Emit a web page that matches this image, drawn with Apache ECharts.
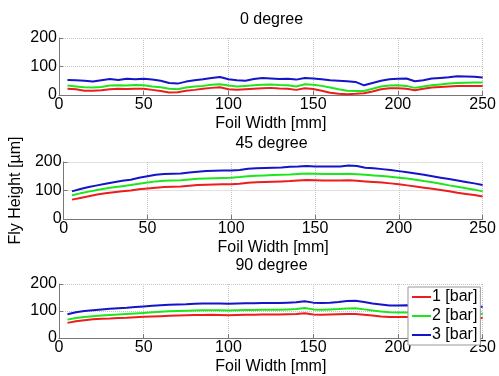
<!DOCTYPE html>
<html>
<head>
<meta charset="utf-8">
<script src="https://cdn.jsdelivr.net/npm/echarts@6/dist/echarts.min.js"></script>
<style>
  html, body { margin: 0; padding: 0; background: #fff; }
  #chart { width: 499px; height: 376px; }
</style>
</head>
<body>
<div id="chart"></div>
<script>
// foil width positions [mm]
const foilWidth = [5, 10, 15, 20, 25, 30, 35, 40, 45, 50, 55, 60, 65, 70, 75, 80, 85, 90, 95, 100,
  105, 110, 115, 120, 125, 130, 135, 140, 145, 150, 155, 160, 165, 170, 175, 180, 185, 190, 195, 200,
  205, 210, 215, 220, 225, 230, 235, 240, 245, 250];

const panelTitles = ['0 degree', '45 degree', '90 degree'];
const seriesNames = ['1 [bar]', '2 [bar]', '3 [bar]'];
const xTicks = [0, 50, 100, 150, 200, 250];
const yTicks = [0, 100, 200];

// 0 degree
const deg0Bar1 = [22, 20, 15, 15, 17, 20, 22, 21, 22, 22, 18, 14, 9, 10, 15, 18, 22, 25, 27, 20,
  18, 20, 22, 24, 25, 23, 22, 18, 24, 21, 15, 8, 4, 3, 4, 6, 12, 20, 24, 24,
  22, 17, 22, 26, 28, 30, 32, 32, 32, 32];
const deg0Bar2 = [33, 30, 27, 26, 28, 33, 34, 33, 35, 34, 30, 27, 22, 20, 26, 30, 32, 36, 38, 33,
  30, 32, 34, 36, 37, 35, 34, 30, 38, 36, 32, 26, 20, 15, 14, 14, 22, 30, 33, 34,
  32, 25, 30, 34, 37, 40, 42, 43, 44, 44];
const deg0Bar3 = [53, 52, 50, 47, 52, 56, 53, 57, 55, 57, 54, 50, 42, 40, 47, 52, 55, 60, 63, 55,
  52, 50, 56, 60, 58, 56, 57, 54, 60, 58, 55, 52, 50, 48, 46, 34, 42, 50, 55, 57,
  58, 48, 52, 58, 60, 62, 66, 65, 64, 61];

// 45 degree
const deg45Bar1 = [68, 74, 80, 86, 90, 94, 97, 100, 104, 107, 110, 112, 113, 114, 117, 119, 120, 121, 122, 122,
  124, 127, 129, 130, 131, 132, 133, 135, 137, 136, 135, 135, 135, 136, 134, 132, 130, 128, 125, 122,
  118, 114, 110, 106, 102, 97, 92, 88, 84, 79];
const deg45Bar2 = [83, 90, 96, 102, 107, 111, 115, 119, 124, 128, 132, 134, 135, 136, 139, 141, 142, 143, 144, 145,
  147, 150, 152, 153, 154, 155, 156, 158, 160, 159, 158, 158, 158, 159, 157, 155, 153, 151, 148, 145,
  142, 138, 133, 129, 124, 118, 113, 108, 103, 97];
const deg45Bar3 = [97, 105, 112, 118, 124, 129, 134, 138, 145, 150, 155, 158, 159, 160, 163, 166, 168, 169, 170, 170,
  172, 176, 178, 179, 180, 181, 183, 184, 186, 184, 184, 184, 184, 188, 186, 180, 178, 175, 172, 168,
  164, 160, 155, 150, 145, 140, 135, 130, 125, 119];

// 90 degree
const deg90Bar1 = [56, 62, 66, 69, 71, 72, 74, 75, 77, 79, 80, 81, 82, 83, 84, 85, 85, 86, 85, 84,
  85, 86, 86, 87, 87, 87, 88, 89, 92, 87, 86, 87, 88, 89, 89, 86, 83, 80, 78, 78,
  78, 77, 77, 76, 76, 76, 75, 75, 75, 74];
const deg90Bar2 = [68, 74, 78, 81, 83, 85, 87, 89, 91, 93, 95, 97, 99, 100, 101, 102, 103, 103, 103, 102,
  103, 104, 104, 105, 105, 105, 106, 107, 111, 106, 105, 106, 107, 109, 110, 106, 102, 98, 95, 94,
  94, 93, 93, 92, 92, 91, 91, 90, 90, 89];
const deg90Bar3 = [88, 95, 100, 103, 106, 108, 110, 112, 115, 117, 119, 121, 123, 124, 125, 127, 128, 128, 128, 127,
  128, 129, 129, 130, 130, 130, 131, 132, 136, 131, 130, 131, 133, 137, 138, 133, 128, 124, 120, 120,
  121, 120, 119, 119, 118, 118, 117, 117, 116, 116];

const panels = [
  [deg0Bar1, deg0Bar2, deg0Bar3],
  [deg45Bar1, deg45Bar2, deg45Bar3],
  [deg90Bar1, deg90Bar2, deg90Bar3]
];
const lineColors = ['#ee1c1c', '#1ee61e', '#1414c8'];

const FONT = "'Liberation Sans', Arial, sans-serif";
const gridTops = [38, 162, 284];
const titleTops = [12, 136, 258];

const myChart = echarts.init(document.getElementById('chart'));

const grids = gridTops.map(top => ({ left: 59, width: 425, top, height: 57, show: false }));

const xAxes = gridTops.map((t, i) => ({
  type: 'value',
  gridIndex: i,
  min: xTicks[0],
  max: xTicks[xTicks.length - 1],
  interval: 50,
  name: 'Foil Width [mm]',
  nameLocation: 'middle',
  nameGap: 21,
  nameTextStyle: { fontSize: 16, color: '#000', fontFamily: FONT },
  axisLine: { lineStyle: { color: '#777', width: 1 } },
  axisTick: { inside: true, length: 4, lineStyle: { color: '#777' } },
  axisLabel: { fontSize: 16, color: '#000', fontFamily: FONT, margin: 2 },
  splitLine: { show: true, lineStyle: { color: '#c4c4c4', type: 'dotted' } }
}));

const yAxes = gridTops.map((t, i) => ({
  type: 'value',
  gridIndex: i,
  min: yTicks[0],
  max: yTicks[yTicks.length - 1],
  interval: 100,
  name: i === 1 ? 'Fly Height [\u00b5m]' : '',
  nameLocation: 'middle',
  nameGap: 30,
  nameTextStyle: { fontSize: 16, color: '#000', fontFamily: FONT },
  axisLine: { show: true, lineStyle: { color: '#777', width: 1 } },
  axisTick: { show: true, inside: true, length: 4, lineStyle: { color: '#777' } },
  axisLabel: { fontSize: 16, color: '#000', fontFamily: FONT, margin: 2 },
  splitLine: { show: true, lineStyle: { color: '#c4c4c4', type: 'dotted' } }
}));

const series = [];
panels.forEach((panel, p) => {
  panel.forEach((vals, s) => {
    series.push({
      name: seriesNames[s],
      type: 'line',
      xAxisIndex: p,
      yAxisIndex: p,
      symbol: 'none',
      lineStyle: { color: lineColors[s], width: 2 },
      itemStyle: { color: lineColors[s] },
      data: foilWidth.map((x, k) => [x, vals[k]])
    });
  });
});

const option = {
  animation: false,
  backgroundColor: '#fff',
  graphic: panelTitles.map((txt, i) => ({
    type: 'text',
    x: 271.5,
    y: titleTops[i],
    style: { text: txt, fill: '#000', font: '16px ' + FONT, textAlign: 'center' }
  })),
  legend: {
    data: seriesNames,
    orient: 'vertical',
    left: 408,
    top: 287,
    padding: [2, 3, 2, 3],
    itemGap: 3,
    itemWidth: 19,
    itemHeight: 2,
    backgroundColor: '#fff',
    borderColor: '#999',
    borderWidth: 1,
    textStyle: { fontSize: 16, color: '#000', fontFamily: FONT, padding: [0, 0, 0, -4] }
  },
  grid: grids,
  xAxis: xAxes,
  yAxis: yAxes,
  series
};
myChart.setOption(option);
</script>
</body>
</html>
